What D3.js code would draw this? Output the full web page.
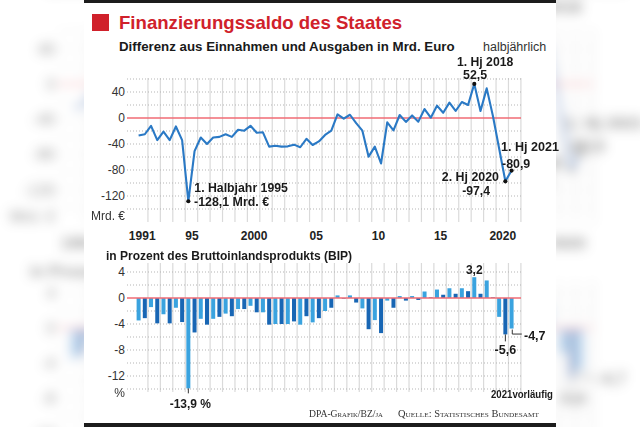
<!DOCTYPE html>
<html><head><meta charset="utf-8">
<script src="https://cdn.jsdelivr.net/npm/d3@7"></script>
<style>html,body{margin:0;padding:0;background:#fff;overflow:hidden}</style>
</head><body>
<script>
// ---------- DATA ----------
const periods = [
"1991/1","1991/2","1992/1","1992/2","1993/1","1993/2","1994/1","1994/2","1995/1","1995/2",
"1996/1","1996/2","1997/1","1997/2","1998/1","1998/2","1999/1","1999/2","2000/1","2000/2",
"2001/1","2001/2","2002/1","2002/2","2003/1","2003/2","2004/1","2004/2","2005/1","2005/2",
"2006/1","2006/2","2007/1","2007/2","2008/1","2008/2","2009/1","2009/2","2010/1","2010/2",
"2011/1","2011/2","2012/1","2012/2","2013/1","2013/2","2014/1","2014/2","2015/1","2015/2",
"2016/1","2016/2","2017/1","2017/2","2018/1","2018/2","2019/1","2019/2","2020/1","2020/2",
"2021/1"];
// Finanzierungssaldo, Mrd. Euro
const saldoMrd = [
-27,-25,-12,-34,-21,-34,-13,-34,-128.1,-51,
-30,-40,-30,-29,-25,-29,-18,-19.5,-12,-22.6,
-22,-44,-42.6,-44,-43.6,-41,-45,-32,-41.5,-36,
-26,-19.5,5.6,-1,5,-8,-19.5,-59.5,-44,-70,
-6.7,-19,4.6,-6,4,-5.6,13.8,0.5,19,8,
23.6,10.8,24.6,20,52.5,10.8,45.6,3,-47,-97.4,
-80.9];
// in Prozent des BIP
const saldoPct = [
-3.45,-3.1,-1.4,-3.9,-2.5,-3.9,-1.5,-3.7,-13.9,-5.3,
-3.2,-4.1,-3.2,-2.9,-2.4,-2.8,-1.7,-1.7,-1.2,-2.2,
-2.2,-4.1,-4.0,-4.0,-4.0,-3.6,-4.1,-2.8,-3.75,-3.1,
-2.0,-1.5,0.4,-0.1,0.4,-0.7,-1.6,-4.8,-3.4,-5.4,
-0.4,-1.5,0.3,-0.4,0.3,-0.3,1.0,0.1,1.3,0.5,
1.5,0.65,1.5,1.05,3.2,0.65,2.7,0.1,-2.9,-5.6,
-4.7];
const yearTicks = [1991,1995,2000,2005,2010,2015,2020];
const yearTickLabels = ["1991","95","2000","05","10","15","2020"];
const topTicks = [40,0,-40,-80,-120];
const bottomTicks = [4,0,-4,-8,-12];
const topGrid = [60,40,20,-20,-40,-60,-80,-100,-120,-140];
const bottomGrid = [4,2,-2,-4,-6,-8,-10,-12,-14];

// ---------- HELPERS ----------
const W = 640, H = 427;
const tOf = p => { const [y,h] = p.split("/").map(Number); return y + (h-1)*0.5 + 0.25; };
const halfOf = p => +p.split("/")[1];

const svg = d3.select("body").append("svg")
  .attr("width", W).attr("height", H)
  .attr("font-family", "'Liberation Sans', Arial, sans-serif");

const defs = svg.append("defs");
defs.append("filter").attr("id","blur").attr("x","-10%").attr("y","-10%").attr("width","120%").attr("height","120%")
  .append("feGaussianBlur").attr("stdDeviation", 4.5);

svg.append("rect").attr("width", W).attr("height", H).attr("fill", "#fff");
// blurred, enlarged background copy (photo fill)
svg.append("use").attr("href", "#chart")
  .attr("transform", "translate(-113.9,-76) scale(1.356)")
  .attr("filter", "url(#blur)");
svg.append("rect").attr("width", W).attr("height", H).attr("fill", "#fff").attr("opacity", 0.25);

const g = svg.append("g").attr("id", "chart");
g.append("rect").attr("x", 84).attr("y", 0).attr("width", 472).attr("height", H).attr("fill", "#fff");
g.append("rect").attr("x", 84).attr("y", 0).attr("width", 472).attr("height", 3).attr("fill", "#1c1c1c");
g.append("rect").attr("x", 84).attr("y", 423).attr("width", 472).attr("height", 4).attr("fill", "#1c1c1c");

// ---------- SCALES ----------
const x = d3.scaleLinear().domain([1991, 2022]).range([135.5, 520.9]);
const yTop = d3.scaleLinear().domain([-140, 60]).range([209, 79]);
const yBot = d3.scaleLinear().domain([-14, 4]).range([389, 272]);
const gridX0 = 127, gridX1 = 521;

// ---------- TITLES ----------
const red = "#d0212b";
g.append("rect").attr("x", 92).attr("y", 14).attr("width", 17).attr("height", 17).attr("fill", red);
g.append("text").attr("x", 119).attr("y", 28.5).attr("font-size", 18.6).attr("font-weight", "bold")
  .attr("fill", red).text("Finanzierungssaldo des Staates");
g.append("text").attr("x", 119).attr("y", 50.5).attr("font-size", 13.3).attr("font-weight", "bold")
  .attr("fill", "#1a1a1a").text("Differenz aus Einnahmen und Ausgaben in Mrd. Euro");
g.append("text").attr("x", 483).attr("y", 50.5).attr("font-size", 12.5)
  .attr("fill", "#333").text("halbjährlich");

// ---------- GRIDS ----------
const years = d3.range(1992, 2023);
g.append("g").selectAll("line").data(years).join("line")
  .attr("x1", d => x(d)).attr("x2", d => x(d)).attr("y1", 78).attr("y2", 222)
  .attr("stroke", "#dadada").attr("stroke-width", 1.2);
g.append("g").selectAll("line").data(years).join("line")
  .attr("x1", d => x(d)).attr("x2", d => x(d)).attr("y1", 263).attr("y2", 392)
  .attr("stroke", "#dadada").attr("stroke-width", 1.2);

g.append("g").selectAll("line").data(topGrid).join("line")
  .attr("x1", gridX0).attr("x2", gridX1).attr("y1", d => yTop(d)).attr("y2", d => yTop(d))
  .attr("stroke", "#b5b5b5").attr("stroke-dasharray", "1,2");
g.append("g").selectAll("line").data(bottomGrid).join("line")
  .attr("x1", gridX0).attr("x2", gridX1).attr("y1", d => yBot(d)).attr("y2", d => yBot(d))
  .attr("stroke", "#b5b5b5").attr("stroke-dasharray", "1,2");

// ---------- AXES ----------
const axTop = g.append("g").attr("transform", `translate(${gridX0},0)`)
  .call(d3.axisLeft(yTop).tickValues(topTicks).tickSize(0).tickPadding(2).tickFormat(d => d));
axTop.select(".domain").remove();
axTop.selectAll("text").attr("font-size", 12).attr("fill", "#333")
  .attr("font-family", "'Liberation Sans', Arial, sans-serif");

const axBot = g.append("g").attr("transform", `translate(${gridX0},0)`)
  .call(d3.axisLeft(yBot).tickValues(bottomTicks).tickSize(0).tickPadding(2).tickFormat(d => d));
axBot.select(".domain").remove();
axBot.selectAll("text").attr("font-size", 12).attr("fill", "#333")
  .attr("font-family", "'Liberation Sans', Arial, sans-serif");

const axX = g.append("g").attr("transform", "translate(0,231)")
  .call(d3.axisBottom(x).tickValues(yearTicks.map(d => d + 0.5)).tickSize(0).tickPadding(0)
    .tickFormat((d, i) => yearTickLabels[i]));
axX.select(".domain").remove();
axX.selectAll("text").attr("font-size", 12).attr("font-weight", "bold").attr("fill", "#222")
  .attr("font-family", "'Liberation Sans', Arial, sans-serif");

g.append("text").attr("x", 125).attr("y", 220).attr("text-anchor", "end").attr("font-size", 12)
  .attr("fill", "#333").text("Mrd. €");
g.append("text").attr("x", 125).attr("y", 397).attr("text-anchor", "end").attr("font-size", 12)
  .attr("fill", "#333").text("%");
g.append("text").attr("x", 106).attr("y", 260).attr("font-size", 12).attr("font-weight", "bold")
  .attr("fill", "#1a1a1a").text("in Prozent des Bruttoinlandsprodukts (BIP)");

// ---------- ZERO LINES ----------
g.append("line").attr("x1", gridX0).attr("x2", gridX1).attr("y1", yTop(0)).attr("y2", yTop(0))
  .attr("stroke", "#f06b74").attr("stroke-width", 1.4);

// ---------- BARS ----------
const barData = periods.map((p, i) => ({ t: tOf(p), h: halfOf(p), v: saldoPct[i] }));
g.append("g").selectAll("rect").data(barData).join("rect")
  .attr("x", d => x(d.t) - 2).attr("width", 4)
  .attr("y", d => yBot(Math.max(0, d.v)))
  .attr("height", d => Math.abs(yBot(d.v) - yBot(0)))
  .attr("fill", d => d.h === 1 ? "#3aa3df" : "#1866b4");
g.append("line").attr("x1", gridX0).attr("x2", gridX1).attr("y1", yBot(0)).attr("y2", yBot(0))
  .attr("stroke", "#f06b74").attr("stroke-width", 1.4);

// ---------- LINE ----------
const lineData = periods.map((p, i) => ({ t: tOf(p), v: saldoMrd[i] }));
g.append("path").datum(lineData)
  .attr("d", d3.line().x(d => x(d.t)).y(d => yTop(d.v)))
  .attr("fill", "none").attr("stroke", "#2a79c5").attr("stroke-width", 2.1)
  .attr("stroke-linejoin", "round");

const markIdx = [periods.indexOf("1995/1"), periods.indexOf("2018/1"), periods.indexOf("2020/2"), periods.indexOf("2021/1")];
g.append("g").selectAll("circle").data(markIdx).join("circle")
  .attr("cx", i => x(lineData[i].t)).attr("cy", i => yTop(lineData[i].v)).attr("r", 2.1).attr("fill", "#111");

// ---------- ANNOTATIONS ----------
function lbl(txt, xx, yy, opts = {}) {
  const t = g.append("text").attr("x", xx).attr("y", yy)
    .attr("font-size", opts.size || 12.3).attr("font-weight", opts.weight || "bold")
    .attr("fill", opts.fill || "#1a1a1a").attr("text-anchor", opts.anchor || "start").text(txt);
  if (opts.len) t.attr("textLength", opts.len).attr("lengthAdjust", "spacingAndGlyphs");
  if (opts.family) t.attr("font-family", opts.family);
  if (opts.variant) t.attr("font-variant", opts.variant);
  return t;
}
lbl("1. Halbjahr 1995", 194.3, 192, { size: 12.3 });
lbl("-128,1 Mrd. €", 194, 206, { size: 12.4 });
lbl("1. Hj 2018", 457, 66, { size: 12.2 });
lbl("52,5", 463, 78.5, { size: 12.4 });
lbl("2. Hj 2020", 499, 180.5, { size: 12.4, anchor: "end" });
lbl("-97,4", 490, 194.5, { size: 12.2, anchor: "end" });
lbl("1. Hj 2021", 501, 151, { size: 12.6 });
lbl("-80,9", 502, 168, { size: 12.4 });

const i95 = periods.indexOf("1995/1"), i20 = periods.indexOf("2020/2"), i21 = periods.indexOf("2021/1"), i18 = periods.indexOf("2018/1");
g.append("line").attr("x1", x(barData[i95].t)).attr("x2", x(barData[i95].t))
  .attr("y1", yBot(saldoPct[i95])).attr("y2", yBot(saldoPct[i95]) + 5).attr("stroke", "#333");
lbl("-13,9 %", x(barData[i95].t) + 2, 408, { size: 12, anchor: "middle" });
lbl("3,2", x(barData[i18].t), 273.5, { size: 12, anchor: "middle" });
g.append("line").attr("x1", x(barData[i20].t)).attr("x2", x(barData[i20].t))
  .attr("y1", yBot(saldoPct[i20])).attr("y2", yBot(saldoPct[i20]) + 7).attr("stroke", "#333");
lbl("-5,6", x(barData[i20].t), 354, { size: 12.5, anchor: "middle" });
const x21 = x(barData[i21].t) + 0.7, y21 = yBot(saldoPct[i21]);
g.append("path").attr("d", `M${x21},${y21 + 1}V${y21 + 5.5}H${x21 + 9.5}`)
  .attr("fill", "none").attr("stroke", "#333");
lbl("-4,7", 524, 339.5, { size: 12.5 });
lbl("2021vorläufig", 491, 398, { size: 10, len: 62 });

lbl("DPA-Grafik/BZ/ja", 309, 416.5, { size: 10, weight: "normal", fill: "#333",
  family: "'Liberation Serif', 'Times New Roman', serif", variant: "small-caps", len: 74 });
lbl("Quelle: Statistisches Bundesamt", 398, 416.5, { size: 10, weight: "normal", fill: "#333",
  family: "'Liberation Serif', 'Times New Roman', serif", variant: "small-caps", len: 141 });
</script>
</body></html>
